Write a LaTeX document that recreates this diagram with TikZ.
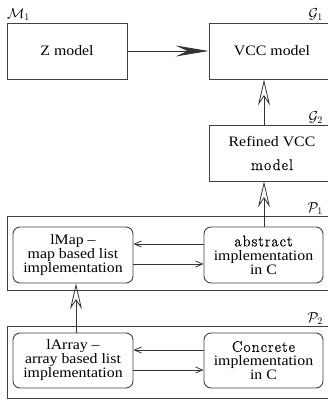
\documentclass[tikz,border=0pt]{standalone}
\usepackage{fontspec}
\setmainfont{Liberation Serif}[FakeStretch=1.1]
\newfontfamily\lmfontfam{Latin Modern Roman}[LetterSpace=7,FakeBold=0.8]
\newcommand{\lmfont}{\lmfontfam\fontsize{15.5}{14}\selectfont}
\usetikzlibrary{arrows.meta}
\begin{document}
\begin{tikzpicture}[x=1pt,y=-1pt,
  every node/.style={font=\fontsize{14.4}{14}\selectfont, text=black, inner sep=0pt},
  sq/.style={draw=black!75, line width=0.9pt},
  rbox/.style={draw=black!75, line width=0.9pt, rounded corners=7pt, align=center,
    minimum width=120pt, minimum height=56pt},
  lbl/.style={anchor=base east},
  conn/.style={draw=black!80, line width=0.8pt},
  bigarrow/.style={conn, -{Stealth[length=33pt,width=11pt,inset=12pt]}},
  openarrow/.style={conn, -{Stealth[open,length=26pt,width=12pt,inset=9pt]}},
  smallarrow/.style={conn, -{Straight Barb[length=7pt,width=6pt]}}
]
\useasboundingbox (0,0) rectangle (328,400);
\clip (0,0) rectangle (328,400);

% top row
\node[sq, minimum width=120pt, minimum height=56pt] (z) at (67,51) {Z model};
\node[sq, minimum width=126pt, minimum height=56pt] (vcc) at (272,51) {VCC model};
\node[anchor=base west] (m1) at (7,18) {$\mathcal{M}_1$};
\node[lbl] (g1) at (323,18) {$\mathcal{G}_1$};

% refined
\node[sq, minimum width=126pt, minimum height=56pt, align=center] (ref) at (272,153)
  {Refined VCC\\[10pt]{\lmfont model}};
\node[lbl] (g2) at (323,121) {$\mathcal{G}_2$};

% P1
\node[sq, minimum width=328pt, minimum height=74pt] (p1) at (171,253) {};
\node[lbl] (p1l) at (323,212) {$\mathcal{P}_1$};
\node[rbox] (lmap) at (73,255) {lMap –\\map based list\\implementation};
\node[rbox, minimum width=119pt] (abs) at (263.5,255) {{\lmfont abstract}\\implementation\\in C};

% P2
\node[sq, minimum width=328pt, minimum height=72pt] (p2) at (171,362) {};
\node[lbl] (p2l) at (323,322) {$\mathcal{P}_2$};
\node[rbox, minimum height=55pt] (larr) at (73,360.5) {lArray –\\array based list\\implementation};
\node[rbox, minimum width=119pt, minimum height=55pt] (conc) at (263.5,360.5) {{\lmfont Concrete}\\implementation\\in C};

% helper coordinates
\coordinate (ya) at (0,244);
\coordinate (yb) at (0,264);
\coordinate (yc) at (0,350);
\coordinate (yd) at (0,370);
\coordinate (xv) at (264,0);
\coordinate (xl) at (76,0);

% connectors
\draw[bigarrow] (z.east) -- (vcc.west);
\draw[openarrow] (xv |- ref.north) -- (xv |- vcc.south);
\draw[openarrow] (xv |- abs.north) -- (xv |- ref.south);
\draw[openarrow] (xl |- larr.north) -- (xl |- lmap.south);
\draw[smallarrow] (abs.west |- ya) -- (lmap.east |- ya);
\draw[smallarrow] (lmap.east |- yb) -- (abs.west |- yb);
\draw[smallarrow] (conc.west |- yc) -- (larr.east |- yc);
\draw[smallarrow] (larr.east |- yd) -- (conc.west |- yd);
\end{tikzpicture}
\end{document}
